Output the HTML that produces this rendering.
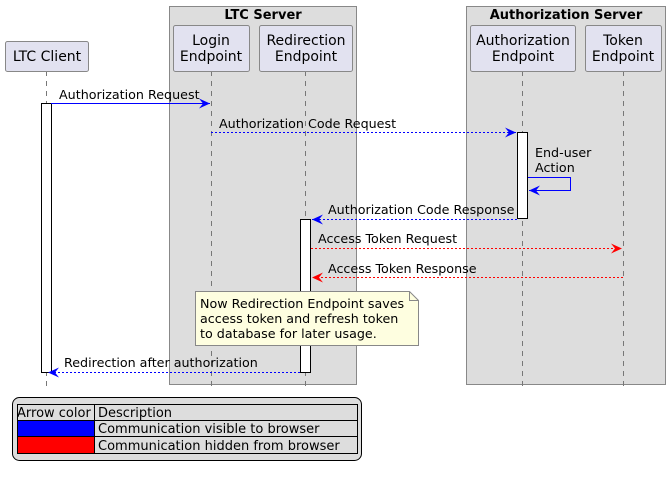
<!DOCTYPE html>
<html><head><meta charset="utf-8"><style>
html,body{margin:0;padding:0;background:#fff;}
svg{display:block;font-family:"DejaVu Sans","Liberation Sans",sans-serif;}
</style></head><body>
<svg width="670" height="479" viewBox="0 0 670 479" xmlns="http://www.w3.org/2000/svg">
<defs>
<marker id="ab" markerWidth="12" markerHeight="10" refX="11" refY="5" orient="auto" markerUnits="userSpaceOnUse"><path d="M0,0 L11,5 L0,10 L4,5 Z" fill="#0000ff"/></marker>
<marker id="ar" markerWidth="12" markerHeight="10" refX="11" refY="5" orient="auto" markerUnits="userSpaceOnUse"><path d="M0,0 L11,5 L0,10 L4,5 Z" fill="#ff0000"/></marker>
</defs>
<rect x="169.5" y="6.5" width="187" height="378" fill="#dddddd" stroke="#888" stroke-width="1"/>
<text x="263" y="19" font-size="13" font-weight="bold" text-anchor="middle" fill="#000">LTC Server</text>
<rect x="466.5" y="6.5" width="199" height="378" fill="#dddddd" stroke="#888" stroke-width="1"/>
<text x="566" y="19" font-size="13" font-weight="bold" text-anchor="middle" fill="#000">Authorization Server</text>
<g stroke="#777" stroke-dasharray="5,5" stroke-width="1">
<line x1="46.5" y1="71" x2="46.5" y2="388"/>
<line x1="211.5" y1="71" x2="211.5" y2="388"/>
<line x1="305.5" y1="71" x2="305.5" y2="388"/>
<line x1="522.5" y1="71" x2="522.5" y2="388"/>
<line x1="623.5" y1="71" x2="623.5" y2="388"/>
</g>
<g fill="#e2e2f0" stroke="#888" stroke-width="1">
<rect x="5.5" y="41.5" width="83" height="30" rx="2"/>
<rect x="173.5" y="25.5" width="76" height="46" rx="2"/>
<rect x="259.5" y="25.5" width="93" height="46" rx="2"/>
<rect x="470.5" y="25.5" width="105" height="46" rx="2"/>
<rect x="585.5" y="25.5" width="76" height="46" rx="2"/>
</g>
<g font-size="14" text-anchor="middle" fill="#000">
<text x="47" y="61">LTC Client</text>
<text x="211" y="45">Login</text><text x="211" y="61">Endpoint</text>
<text x="306" y="45">Redirection</text><text x="306" y="61">Endpoint</text>
<text x="523" y="45">Authorization</text><text x="523" y="61">Endpoint</text>
<text x="623" y="45">Token</text><text x="623" y="61">Endpoint</text>
</g>
<g fill="#fff" stroke="#000" stroke-width="1">
<rect x="41.5" y="103.5" width="10" height="269"/>
<rect x="517.5" y="132.5" width="10" height="86"/>
<rect x="300.5" y="219.5" width="10" height="153"/>
</g>
<g font-size="12.7" fill="#000">
<line x1="51" y1="103.5" x2="210" y2="103.5" stroke="#0000ff" marker-end="url(#ab)"/>
<text x="59" y="99">Authorization Request</text>
<line x1="211" y1="132.5" x2="516" y2="132.5" stroke="#0000ff" stroke-dasharray="2,2" marker-end="url(#ab)"/>
<text x="219" y="128">Authorization Code Request</text>
<polyline points="528,177.5 570.5,177.5 570.5,190.5 529,190.5" fill="none" stroke="#0000ff" marker-end="url(#ab)"/>
<text x="535" y="157">End-user</text><text x="535" y="172">Action</text>
<line x1="517" y1="219.5" x2="312" y2="219.5" stroke="#0000ff" stroke-dasharray="2,2" marker-end="url(#ab)"/>
<text x="328" y="214">Authorization Code Response</text>
<line x1="311" y1="248.5" x2="622" y2="248.5" stroke="#ff0000" stroke-dasharray="2,2" marker-end="url(#ar)"/>
<text x="318" y="243">Access Token Request</text>
<line x1="623" y1="277.5" x2="312" y2="277.5" stroke="#ff0000" stroke-dasharray="2,2" marker-end="url(#ar)"/>
<text x="328" y="273">Access Token Response</text>
<line x1="300" y1="372.5" x2="48" y2="372.5" stroke="#0000ff" stroke-dasharray="2,2" marker-end="url(#ab)"/>
<text x="64" y="367">Redirection after authorization</text>
</g>
<path d="M195.5,291.5 L409.5,291.5 L418.5,300.5 L418.5,345.5 L195.5,345.5 Z" fill="#fefee0" stroke="#888"/>
<path d="M409.5,291.5 L409.5,300.5 L418.5,300.5" fill="none" stroke="#888"/>
<g font-size="12.7" fill="#000">
<text x="200" y="308">Now Redirection Endpoint saves</text>
<text x="200" y="323">access token and refresh token</text>
<text x="200" y="338">to database for later usage.</text>
</g>
<rect x="12.5" y="397.5" width="349" height="63" rx="7" fill="#dddddd" stroke="#000"/>
<rect x="17.5" y="404.5" width="340" height="49" fill="none" stroke="#000"/>
<rect x="17.5" y="420.5" width="77" height="16" fill="#0000ff" stroke="#000"/>
<rect x="17.5" y="436.5" width="77" height="17" fill="#ff0000" stroke="#000"/>
<line x1="17" y1="420.5" x2="357" y2="420.5" stroke="#000"/>
<line x1="17" y1="436.5" x2="357" y2="436.5" stroke="#000"/>
<line x1="94.5" y1="404" x2="94.5" y2="453" stroke="#000"/>
<g font-size="13" fill="#000">
<text x="17" y="417">Arrow color</text>
<text x="98" y="417">Description</text>
<text x="98" y="433">Communication visible to browser</text>
<text x="98" y="450">Communication hidden from browser</text>
</g>
</svg>
</body></html>
